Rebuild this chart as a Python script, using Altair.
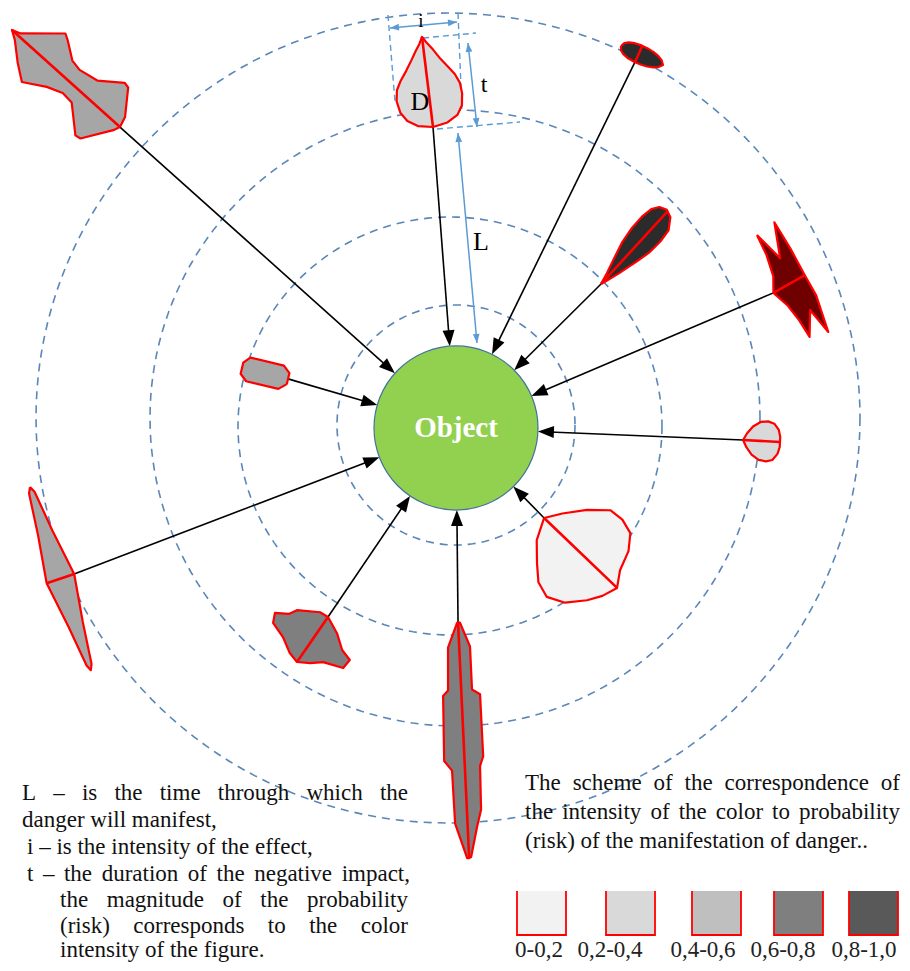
import math
import pandas as pd
import altair as alt

# ---------------- canvas (screen pixel units) ----------------
W, H = 894, 955
PX0, PY0 = 8, 8

# ---------------- data ----------------
object_center = [456, 428]
object_radius = 82
object_label = "Object"

# dashed rings around the object
orbit_cx = [456, 450, 455, 448]
orbit_cy = [425, 426, 418, 418]
orbit_rx = [119, 212, 305, 412]
orbit_ry = [120, 209, 308, 405]

# dangers: placement (bearing clockwise from up, distance L), axis direction,
# length t, half-intensity i, fill (probability colour) and outline template
danger_ids = ["D", "top_left", "top_right", "leaf", "cross", "right",
              "lower_right", "bottom", "lower_left", "left", "small"]
danger_bearing = [-4.37, -48.15, 23.36, 45.2, 56.97, 92.4, 135.6, 179.4, -145.9, -97.9, -73.7]
danger_dist = [301.9, 451.1, 416.1, 204.4, 361.6, 287.3, 125.9, 194.0, 228.3, 430.1, 175.0]
danger_axis = [-6.97, -48.07, 114.3, 42.5, 150.6, 93.1, 133.8, 177.3, -145.4, 161.6, -76.6]
danger_t = [90.7, 145.2, 46.1, 99.1, 122, 37, 101.1, 236.3, 54.6, 192.9, 47.3]
danger_i = [33, 36, 9, 15, 18, 20, 53, 20, 46, 14.5, 12]
danger_fill = ["#d9d9d9", "#a6a6a6", "#2b2b2b", "#2b2b2b", "#6e0000", "#d9d9d9",
               "#f2f2f2", "#7f7f7f", "#7f7f7f", "#a6a6a6", "#a6a6a6"]
danger_shape = ["drop", "bowtie", "egg", "leaf", "xshape", "heart",
                "round", "spindle", "rough", "lens", "octagon"]
danger_redline = [(0, 0, 1, 0), (0, 0, 1, 0), (0.42, -1, 0.42, 1), (0, 0, 1, 0),
                  (0.5, -1, 0.5, 1), (0, 0, 1, 0), (0, 0, 1, 0), (0, 0, 1, 0),
                  (0, 0, 1, 0), (0.5, 1, 0.5, -1), None]
danger_start = [(0, 0), (0, 0), (0.42, -1), (0, 0), (0.5, -1), (0, 0),
                (0, 0), (0, 0), (0, 0), (0.5, 1), (0, 0)]

templates = {
    "drop": [(0, 0), (0.03, 0.45), (0.1, 0.75), (0.2, 0.93), (0.33, 1.0), (0.45, 0.95),
             (0.55, 0.8), (0.65, 0.6), (0.75, 0.42), (0.85, 0.25), (0.93, 0.1), (1, 0),
             (0.93, -0.12), (0.85, -0.28), (0.75, -0.45), (0.65, -0.65), (0.55, -0.85),
             (0.45, -0.97), (0.33, -1.0), (0.2, -0.95), (0.1, -0.78), (0.03, -0.45)],
    "bowtie": [(0, 0), (0.02, -0.3), (0.14, -0.97), (0.18, -1.0), (0.33, -0.54), (0.47, -0.43),
               (0.55, -0.49), (0.67, -0.83), (0.71, -0.92), (0.94, -0.09), (1, 0),
               (0.94, 0.15), (0.82, 0.57), (0.71, 0.89), (0.56, 0.53), (0.45, 0.36),
               (0.36, 0.39), (0.19, 1.0), (0.15, 0.97), (0.02, 0.19)],
    "egg": [(0, 0), (0.04, 0.45), (0.12, 0.72), (0.25, 0.92), (0.4, 1.0), (0.55, 0.98),
            (0.7, 0.88), (0.83, 0.68), (0.93, 0.42), (1, 0), (0.93, -0.42), (0.83, -0.68),
            (0.7, -0.88), (0.55, -0.98), (0.4, -1.0), (0.25, -0.92), (0.12, -0.72), (0.04, -0.45)],
    "leaf": [(0, 0), (0.12, 0.2), (0.3, 0.55), (0.46, 0.85), (0.62, 1.0), (0.78, 1.02),
             (0.9, 0.9), (0.97, 0.6), (1, 0.1), (0.97, -0.4), (0.86, -0.9), (0.72, -1.0),
             (0.56, -0.95), (0.4, -0.72), (0.2, -0.4), (0.07, -0.15)],
    "xshape": [(0.02, -0.22), (0.28, 0.27), (0.0, 0.97), (0.25, 1.03), (0.5, 1.0), (0.69, 1.0),
               (1.0, 0.59), (0.77, 0.31), (0.96, -0.45), (0.8, -0.5), (0.65, -0.65),
               (0.5, -1.0), (0.38, -0.55), (0.2, -0.3)],
    "heart": [(0, 0), (0.1, 0.35), (0.25, 0.7), (0.45, 0.95), (0.65, 1.0), (0.82, 0.9),
              (0.95, 0.6), (1, 0.25), (1, 0), (1, -0.25), (0.95, -0.6), (0.82, -0.92),
              (0.65, -1.0), (0.45, -0.95), (0.25, -0.7), (0.1, -0.35)],
    "round": [(0, 0), (0.1, 0.3), (0.25, 0.67), (0.42, 0.97), (0.57, 1.0), (0.72, 0.92),
              (0.83, 0.65), (0.9, 0.28), (1, 0), (0.95, -0.3), (0.87, -0.56), (0.73, -0.88),
              (0.56, -1.04), (0.4, -0.95), (0.26, -0.71), (0.1, -0.4)],
    "spindle": [(0, 0), (0.004, 0.1), (0.106, 0.54), (0.288, 0.54), (0.31, 0.93), (0.572, 0.94),
                (0.614, 0.76), (0.797, 0.71), (0.869, 0.47), (0.996, 0.1), (1, 0), (1, -0.1),
                (0.852, -0.62), (0.627, -0.65), (0.585, -1.02), (0.31, -0.92), (0.288, -0.66),
                (0.106, -0.56), (0.004, -0.05)],
    "rough": [(0, 0), (0.15, 0.36), (0.35, 0.66), (0.42, 0.92), (0.61, 0.9), (0.73, 0.47),
              (0.88, 0.25), (1, 0), (0.94, -0.24), (0.77, -0.56), (0.66, -0.91), (0.49, -1.0),
              (0.36, -0.74), (0.22, -0.64), (0.01, -0.2)],
    "lens": [(0, 0), (0.03, 0.2), (0.25, 0.52), (0.5, 1), (0.75, 0.52), (0.97, 0.18), (1, 0),
             (0.97, -0.18), (0.75, -0.52), (0.5, -1), (0.25, -0.52), (0.03, -0.2)],
    "octagon": [(0, 0.45), (0.15, 1.0), (0.85, 1.0), (1, 0.5), (1, -0.45), (0.88, -1),
                (0.15, -1), (0, -0.5)],
}

# dimension annotation around danger "D"
dim_labels = ["i", "t", "D", "L"]
dim_label_x = [421, 484, 420, 481]
dim_label_y = [21, 85, 102, 242]
dim_label_size = [19, 24, 26, 26]
dim_arrow_from = [(390, 28), (468, 43), (458, 133)]
dim_arrow_to = [(457, 22), (477, 127), (477, 343)]
dim_dash_from = [(388, 15), (458, 13), (423, 38), (437, 129)]
dim_dash_to = [(395, 102), (462, 112), (476, 33), (520, 122)]

# explanatory notes
note_lines = ["L – is the time through which the", "danger will manifest,",
              "i – is the intensity of the effect,", "t – the duration of the negative impact,",
              "the magnitude of the probability", "(risk) corresponds to the color",
              "intensity of the figure."]
note_x0 = [22, 22, 27, 27, 60, 60, 60]
note_x1 = [408, 0, 0, 410, 408, 408, 0]
note_y = [793, 820, 847, 874, 900, 926, 950]

scheme_lines = ["The scheme of the correspondence of",
                "the intensity of the color to probability",
                "(risk) of the manifestation of danger.."]
scheme_x0 = [525, 525, 525]
scheme_x1 = [900, 900, 0]
scheme_y = [783, 812, 841]

legend_labels = ["0-0,2", "0,2-0,4", "0,4-0,6", "0,6-0,8", "0,8-1,0"]
legend_colors = ["#f2f2f2", "#d9d9d9", "#bfbfbf", "#7f7f7f", "#595959"]
legend_x0 = [517, 606, 692, 774, 849]
legend_label_x = [539, 610, 703, 783, 864]

FONT = "Liberation Serif, Times New Roman, DejaVu Serif, serif"
TEXT_SIZE = 23
BLUE = "#5b9bd5"
RING = "#5a86b8"

# ---------------- helpers ----------------
TW = {' ': 250, ',': 250, '.': 250, '(': 333, ')': 333, '-': 333, '–': 500,
      'L': 611, 'T': 611, 'a': 444, 'b': 500, 'c': 444, 'd': 500, 'e': 444, 'f': 333,
      'g': 500, 'h': 500, 'i': 278, 'j': 278, 'k': 500, 'l': 278, 'm': 778, 'n': 500,
      'o': 500, 'p': 500, 'q': 500, 'r': 333, 's': 389, 't': 278, 'u': 500, 'v': 500,
      'w': 722, 'x': 500, 'y': 500, 'z': 444}


def twidth(s, size):
    return sum(TW.get(c, 500) for c in s) * size / 1000.0


def layout(lines, x0s, x1s, ys, size):
    rows = []
    for ln, x0, x1, y in zip(lines, x0s, x1s, ys):
        if x1:
            words = ln.split(" ")
            total = sum(twidth(w, size) for w in words)
            gap = (x1 - x0 - total) / (len(words) - 1)
            x = x0
            for w in words:
                rows.append({"x": x, "y": y, "txt": w})
                x += twidth(w, size) + gap
        else:
            rows.append({"x": x0, "y": y, "txt": ln})
    return pd.DataFrame(rows)


cx, cy = object_center


def frame(k):
    b = math.radians(danger_bearing[k])
    px = cx + danger_dist[k] * math.sin(b)
    py = cy - danger_dist[k] * math.cos(b)
    a = math.radians(danger_axis[k])
    dx, dy = math.sin(a), -math.cos(a)
    nx, ny = dy, -dx
    t, hw = danger_t[k], danger_i[k]
    return lambda u, v: (px + u * t * dx + v * hw * nx, py + u * t * dy + v * hw * ny)


xs = alt.Scale(domain=[PX0, PX0 + W], nice=False, zero=False)
ys = alt.Scale(domain=[PY0, PY0 + H], reverse=True, nice=False, zero=False)


def X(f):
    return alt.X(f"{f}:Q", scale=xs, axis=None)


def Y(f):
    return alt.Y(f"{f}:Q", scale=ys, axis=None)


HEAD = "M0,-1L0.75,1L-0.75,1Z"


def head_row(tipx, tipy, ux, uy, length):
    ang = math.degrees(math.atan2(ux, -uy)) % 360
    return {"x": tipx - ux * length / 2, "y": tipy - uy * length / 2, "ang": ang}


layers = []

# rings
ring_rows = []
for o, (ox, oy, rx, ry) in enumerate(zip(orbit_cx, orbit_cy, orbit_rx, orbit_ry)):
    for k in range(0, 362, 2):
        a = math.radians(k)
        ring_rows.append({"orbit": o, "k": k, "x": ox + rx * math.cos(a), "y": oy + ry * math.sin(a)})
layers.append(alt.Chart(pd.DataFrame(ring_rows)).mark_line(
    stroke=RING, strokeWidth=1.6, strokeDash=[8, 6]).encode(
    X("x"), Y("y"), detail="orbit:N", order="k:Q"))

# blue dashed guide lines
dd = pd.DataFrame([{"x": a[0], "y": a[1], "x2": b[0], "y2": b[1]} for a, b in zip(dim_dash_from, dim_dash_to)])
layers.append(alt.Chart(dd).mark_rule(stroke=BLUE, strokeWidth=1.4, strokeDash=[6, 4]).encode(
    X("x"), Y("y"), x2="x2:Q", y2="y2:Q"))

# arrows from dangers to the object
arr_rows, head_rows = [], []
for k in range(len(danger_ids)):
    f = frame(k)
    sx, sy = f(*danger_start[k])
    vx, vy = cx - sx, cy - sy
    n = math.hypot(vx, vy)
    ux, uy = vx / n, vy / n
    ex, ey = cx - object_radius * ux, cy - object_radius * uy
    arr_rows.append({"x": sx, "y": sy, "x2": ex - ux * 6, "y2": ey - uy * 6})
    head_rows.append(head_row(ex, ey, ux, uy, 16))
layers.append(alt.Chart(pd.DataFrame(arr_rows)).mark_rule(stroke="black", strokeWidth=1.6).encode(
    X("x"), Y("y"), x2="x2:Q", y2="y2:Q"))
layers.append(alt.Chart(pd.DataFrame(head_rows)).mark_point(
    shape=HEAD, filled=True, fill="black", stroke=None, size=256, opacity=1).encode(
    X("x"), Y("y"), angle=alt.Angle("ang:Q", scale=None)))

# danger figures
red_rows = []
for k in range(len(danger_ids)):
    f = frame(k)
    pts = templates[danger_shape[k]]
    rows = []
    for j, (u, v) in enumerate(pts + [pts[0]]):
        x, y = f(u, v)
        rows.append({"k": j, "x": x, "y": y})
    layers.append(alt.Chart(pd.DataFrame(rows)).mark_line(
        fill=danger_fill[k], stroke="#ff0000", strokeWidth=2.2, strokeJoin="round").encode(
        X("x"), Y("y"), order="k:Q"))
    rl = danger_redline[k]
    if rl:
        x1, y1 = f(rl[0], rl[1])
        x2, y2 = f(rl[2], rl[3])
        red_rows.append({"x": x1, "y": y1, "x2": x2, "y2": y2})
layers.append(alt.Chart(pd.DataFrame(red_rows)).mark_rule(stroke="#ff0000", strokeWidth=2.6).encode(
    X("x"), Y("y"), x2="x2:Q", y2="y2:Q"))

# object
obj = pd.DataFrame([{"x": cx, "y": cy, "s": (2 * object_radius) ** 2, "txt": object_label}])
layers.append(alt.Chart(obj).mark_point(shape="circle", filled=True, fill="#92d050",
                                        stroke="#41719c", strokeWidth=1.2, opacity=1).encode(
    X("x"), Y("y"), size=alt.Size("s:Q", scale=None)))
layers.append(alt.Chart(obj).mark_text(font=FONT, fontSize=29, fontWeight="bold", color="white",
                                       baseline="middle", align="center").encode(
    X("x"), Y("y"), text="txt:N"))

# blue dimension arrows
bl_rows, bh_rows = [], []
for a, b in zip(dim_arrow_from, dim_arrow_to):
    vx, vy = b[0] - a[0], b[1] - a[1]
    n = math.hypot(vx, vy)
    ux, uy = vx / n, vy / n
    bl_rows.append({"x": a[0], "y": a[1], "x2": b[0], "y2": b[1]})
    bh_rows.append(head_row(b[0], b[1], ux, uy, 9))
    bh_rows.append(head_row(a[0], a[1], -ux, -uy, 9))
layers.append(alt.Chart(pd.DataFrame(bl_rows)).mark_rule(stroke=BLUE, strokeWidth=1.5).encode(
    X("x"), Y("y"), x2="x2:Q", y2="y2:Q"))
layers.append(alt.Chart(pd.DataFrame(bh_rows)).mark_point(
    shape=HEAD, filled=True, fill=BLUE, stroke=None, size=81, opacity=1).encode(
    X("x"), Y("y"), angle=alt.Angle("ang:Q", scale=None)))

dl = pd.DataFrame({"x": dim_label_x, "y": dim_label_y, "txt": dim_labels, "fs": dim_label_size})
layers.append(alt.Chart(dl).mark_text(font=FONT, color="black", baseline="middle", align="center").encode(
    X("x"), Y("y"), text="txt:N", size=alt.Size("fs:Q", scale=None)))

# notes
notes = pd.concat([layout(note_lines, note_x0, note_x1, note_y, TEXT_SIZE),
                   layout(scheme_lines, scheme_x0, scheme_x1, scheme_y, TEXT_SIZE)])
layers.append(alt.Chart(notes).mark_text(font=FONT, fontSize=TEXT_SIZE, color="#111111",
                                         baseline="middle", align="left").encode(
    X("x"), Y("y"), text="txt:N"))

# legend of probability colours
BOX_W, BOX_Y0, BOX_Y1 = 49, 891, 935
lg = pd.DataFrame({"x": legend_x0, "x2": [v + BOX_W for v in legend_x0],
                   "y": [BOX_Y0] * 5, "y2": [BOX_Y1] * 5, "col": legend_colors,
                   "lx": legend_label_x, "ly": [950] * 5, "txt": legend_labels})
layers.append(alt.Chart(lg).mark_rect().encode(
    X("x"), Y("y"), x2="x2:Q", y2="y2:Q", color=alt.Color("col:N", scale=None)))
brd = []
for b, x0 in enumerate(legend_x0):
    for j, (px, py) in enumerate([(x0, BOX_Y0), (x0, BOX_Y1), (x0 + BOX_W, BOX_Y1), (x0 + BOX_W, BOX_Y0)]):
        brd.append({"box": b, "k": j, "x": px, "y": py})
layers.append(alt.Chart(pd.DataFrame(brd)).mark_line(stroke="#ff0000", strokeWidth=1.8).encode(
    X("x"), Y("y"), detail="box:N", order="k:Q"))
layers.append(alt.Chart(lg).mark_text(font=FONT, fontSize=TEXT_SIZE, color="#222222",
                                      baseline="middle", align="center").encode(
    X("lx"), Y("ly"), text="txt:N"))

chart = alt.layer(*layers).properties(width=W, height=H, padding=0, autosize="none").configure_view(stroke=None)
chart.save("out.html", embed_options={"renderer": "svg", "actions": False})
